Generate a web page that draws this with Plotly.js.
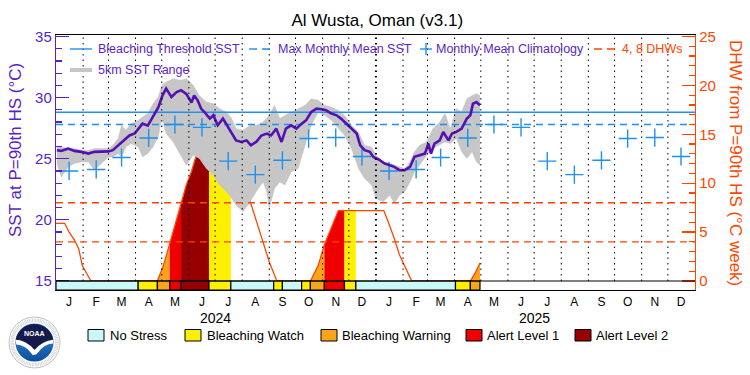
<!DOCTYPE html>
<html><head><meta charset="utf-8">
<script src="https://cdn.plot.ly/plotly-3.0.1.min.js"></script>
<style>html,body{margin:0;padding:0;background:#fff}#chart{width:750px;height:375px}</style>
</head><body><div id="chart"></div>
<script>
// ---------------- DATA ----------------
const title = 'Al Wusta, Oman (v3.1)';
const sstDates = ['2024-01-02','2024-01-07','2024-01-15','2024-01-22','2024-01-30','2024-02-07','2024-02-14','2024-02-22','2024-03-01','2024-03-06','2024-03-10','2024-03-14','2024-03-19','2024-03-25','2024-03-31','2024-04-06','2024-04-09','2024-04-15','2024-04-21','2024-04-27','2024-05-02','2024-05-06','2024-05-12','2024-05-18','2024-05-23','2024-05-29','2024-06-04','2024-06-07','2024-06-11','2024-06-15','2024-06-19','2024-06-25','2024-06-29','2024-07-04','2024-07-10','2024-07-16','2024-07-20','2024-07-25','2024-07-31','2024-08-06','2024-08-11','2024-08-17','2024-08-23','2024-08-29','2024-09-03','2024-09-09','2024-09-15','2024-09-20','2024-09-26','2024-10-02','2024-10-08','2024-10-13','2024-10-19','2024-10-25','2024-10-31','2024-11-05','2024-11-11','2024-11-17','2024-11-22','2024-11-28','2024-12-04','2024-12-10','2024-12-14','2024-12-19','2024-12-25','2024-12-29','2025-01-05','2025-01-11','2025-01-17','2025-01-22','2025-01-28','2025-02-03','2025-02-09','2025-02-14','2025-02-20','2025-02-26','2025-03-02','2025-03-05','2025-03-09','2025-03-15','2025-03-19','2025-03-25','2025-03-29','2025-04-03','2025-04-09','2025-04-15','2025-04-19','2025-04-22','2025-04-26','2025-04-30'];
const sstValues = [25.69,25.64,25.83,25.64,25.56,25.42,25.56,25.56,25.6,25.7,25.96,26.24,26.5,26.9,27.06,27.6,27.87,27.7,28.4,29.2,30.2,30.73,30.05,30.45,30.6,30.3,29.6,30.18,29.78,29.1,28.8,28.28,28.55,27.73,28.28,27.6,27.06,26.5,26.37,26.5,26.1,26.37,26.9,27.06,26.9,27.46,26.37,27.46,27.73,27.46,27.87,28.14,28.82,29.1,29.04,28.96,28.69,28.55,28.28,27.87,27.46,27.06,26.1,25.7,25.56,25.15,24.9,24.6,24.47,24.33,24.06,24.06,24.33,25.15,25.29,25.42,26.24,25.42,26.24,26.5,27.19,26.5,27.06,27.19,27.46,28.28,28.55,29.5,29.64,29.37];

const rangeDates = ['2024-01-02','2024-01-07','2024-01-15','2024-01-22','2024-01-30','2024-02-07','2024-02-14','2024-02-22','2024-03-01','2024-03-06','2024-03-12','2024-03-16','2024-03-21','2024-03-27','2024-04-04','2024-04-09','2024-04-15','2024-04-21','2024-04-27','2024-05-01','2024-05-06','2024-05-14','2024-05-22','2024-05-29','2024-06-06','2024-06-13','2024-06-21','2024-06-29','2024-07-06','2024-07-14','2024-07-20','2024-07-25','2024-08-02','2024-08-10','2024-08-17','2024-08-25','2024-08-29','2024-09-01','2024-09-07','2024-09-13','2024-09-19','2024-09-26','2024-10-04','2024-10-12','2024-10-19','2024-10-27','2024-11-03','2024-11-11','2024-11-19','2024-11-26','2024-12-04','2024-12-12','2024-12-19','2024-12-27','2025-01-01','2025-01-09','2025-01-17','2025-01-22','2025-01-28','2025-02-03','2025-02-09','2025-02-14','2025-02-20','2025-02-28','2025-03-07','2025-03-15','2025-03-21','2025-03-27','2025-04-03','2025-04-09','2025-04-15','2025-04-21','2025-04-26','2025-04-30'];
const rangeLow = [24.61,23.51,24.33,24.61,24.74,24.74,24.06,24.61,25.15,25.15,25.42,25.15,25.96,26.24,25.96,25.15,25.42,25.96,26.78,28.3,27.06,26.37,25.29,24.47,25.29,25.02,24.2,23.65,22.84,22.29,21.75,21.2,20.66,21.47,22.29,23.1,22.29,20.93,22.57,23.1,22.84,23.92,24.2,26.1,27.73,28.82,28.55,28.14,27.46,26.92,25.83,24.2,23.38,22.84,21.75,21.47,22.02,21.34,22.02,22.29,23.1,23.92,24.47,25.29,25.83,26.1,26.37,26.24,26.65,25.56,25.02,25.56,24.74,24.47];
const rangeHigh = [25.96,25.96,25.88,25.83,25.69,25.69,25.83,25.83,25.83,26.1,26.65,27.73,27.33,27.87,28.14,28.41,28.69,29.5,30.05,31.0,31.27,31.55,31.41,31.55,31.0,30.18,29.64,29.5,29.1,28.82,28.28,27.46,27.33,27.73,27.73,28.0,28.28,28.55,29.37,28.28,28.55,28.82,29.1,29.37,29.91,29.78,29.37,29.23,28.96,28.55,27.73,27.19,26.1,25.96,25.29,24.74,24.61,24.47,24.33,24.2,24.74,25.56,26.1,26.37,27.46,28.0,28.69,27.46,29.1,28.82,29.91,30.18,30.32,30.18];

const years = ['2024','2025'];
const monthNums = ['01','02','03','04','05','06','07','08','09','10','11','12'];
const monthLetters = ['J','F','M','A','M','J','J','A','S','O','N','D'];
const climatology = [24.0,24.12,25.1,26.7,27.8,27.56,24.8,23.7,24.87,26.65,26.73,25.18];
const maxMonthlyMean = 27.8;
const bleachingThreshold = 28.8;
const dhwLevels = [4, 8];

const dhwDates = ['2024-01-01','2024-01-11','2024-01-16','2024-01-22','2024-01-27','2024-01-31','2024-02-04','2024-02-09','2024-02-10','2024-04-26','2024-05-03','2024-05-10','2024-05-16','2024-05-23','2024-05-29','2024-06-04','2024-06-10','2024-06-17','2024-06-24','2024-07-12','2024-07-19','2024-07-26','2024-08-02','2024-08-09','2024-08-17','2024-08-25','2024-09-01','2024-09-09','2024-09-10','2024-10-18','2024-10-27','2024-11-03','2024-11-09','2024-11-15','2024-11-19','2024-11-26','2024-12-09','2025-01-10','2025-01-15','2025-01-22','2025-01-28','2025-02-03','2025-02-09','2025-02-11','2025-04-19','2025-04-25','2025-04-30'];
const dhwValues = [5.9,5.9,5.0,4.2,3.3,1.6,0.95,0.1,0,0,1.6,3.8,5.7,7.8,9.8,11.2,13.0,13.6,13.7,13.7,12.6,11.1,9.7,8.45,6.2,3.85,1.95,0.15,0,0,1.6,3.7,5.0,6.4,7.2,7.2,7.2,7.2,6.05,4.35,2.65,1.45,0.27,0,0,0.9,1.85];

const stressStart = ['2024-01-01','2024-04-04','2024-04-26','2024-05-10','2024-05-23','2024-06-24','2024-07-19','2024-09-06','2024-09-16','2024-10-08','2024-10-18','2024-11-03','2024-11-26','2024-12-09','2025-04-02','2025-04-19'];
const stressEnd   = ['2024-04-04','2024-04-26','2024-05-10','2024-05-23','2024-06-24','2024-07-19','2024-09-06','2024-09-16','2024-10-08','2024-10-18','2024-11-03','2024-11-26','2024-12-09','2025-04-02','2025-04-19','2025-04-30'];
const stressLevel = [0,1,2,3,4,1,0,1,0,1,2,3,1,0,1,2];
const stressNames = ['No Stress','Bleaching Watch','Bleaching Warning','Alert Level 1','Alert Level 2'];

// ---------------- STYLE ----------------
const stressColors = ['#c8f8f8','#fff000','#f9a51b','#ee0000','#960000'];
const purple = '#5a1fc8', sstLine = '#5510b4', blue = '#1e90f0', orange = '#ff4500', gray = '#c6c6c6';
const FONT = 'Liberation Sans, Arial, sans-serif';
const xRange = ['2024-01-01','2026-01-01'];
const dhwRange = [-0.92, 25.15];
const sstRange = [14.26, 35.12];
const px = v => (v - 56) / 639;
const py = v => (290 - v) / 255;

const traces = [];
// DHW fills by stress level (on DHW axis 'y', drawn underneath)
for (let i = 0; i < stressStart.length; i++) {
  if (stressLevel[i] === 0) continue;
  const xs = [], ys = [];
  dhwDates.forEach((d, k) => { if (d >= stressStart[i] && d <= stressEnd[i]) { xs.push(d); ys.push(dhwValues[k]); } });
  if (xs.length < 2) continue;
  traces.push({x: xs, y: ys, yaxis: 'y', type: 'scatter', mode: 'lines', fill: 'tozeroy',
    fillcolor: stressColors[stressLevel[i]], line: {width: 0, color: stressColors[stressLevel[i]]}, hoverinfo: 'skip'});
}
traces.push({x: dhwDates, y: dhwValues, yaxis: 'y', type: 'scatter', mode: 'lines', line: {color: orange, width: 1.3}});

// SST layer (on 'y2', overlaying, drawn above)
traces.push({x: rangeDates, y: rangeLow, yaxis: 'y2', type: 'scatter', mode: 'lines', line: {width: 0.5, color: gray}});
traces.push({x: rangeDates, y: rangeHigh, yaxis: 'y2', type: 'scatter', mode: 'lines', fill: 'tonexty', fillcolor: gray, line: {width: 0.5, color: gray}});
traces.push({x: xRange, y: [bleachingThreshold, bleachingThreshold], yaxis: 'y2', type: 'scatter', mode: 'lines', line: {color: blue, width: 1.4}});
traces.push({x: xRange, y: [maxMonthlyMean, maxMonthlyMean], yaxis: 'y2', type: 'scatter', mode: 'lines', line: {color: blue, width: 1.4, dash: '7px,5px'}});
const climX = [], climY = [];
years.forEach(y => monthNums.forEach((m, i) => { climX.push(y + '-' + m + '-16'); climY.push(climatology[i]); }));
traces.push({x: climX, y: climY, yaxis: 'y2', type: 'scatter', mode: 'markers',
  marker: {symbol: 'cross-thin', size: 13, line: {color: blue, width: 1.4}, color: blue}});
traces.push({x: sstDates, y: sstValues, yaxis: 'y2', type: 'scatter', mode: 'lines', line: {color: sstLine, width: 2.6}});

// ---------------- SHAPES ----------------
const shapes = [];
// monthly dotted grid
years.forEach(y => monthNums.forEach(m => {
  const d = y + '-' + m + '-01';
  if (d === xRange[0]) return;
  shapes.push({type: 'line', xref: 'x', yref: 'y', x0: d, x1: d, y0: 0, y1: dhwRange[1], layer: 'above',
    line: {color: '#000', width: (m === '01') ? 2 : 1, dash: '1.5px,4px'}});
}));
// DHW 4, 8 lines
dhwLevels.forEach(v => shapes.push({type: 'line', xref: 'paper', yref: 'y', x0: 0, x1: 1, y0: v, y1: v, layer: 'above',
  line: {color: orange, width: 1.3, dash: '7px,5px'}}));
// stress bar
for (let i = 0; i < stressStart.length; i++) {
  shapes.push({type: 'rect', xref: 'x', yref: 'y', x0: stressStart[i], x1: stressEnd[i], y0: dhwRange[0], y1: 0,
    fillcolor: stressColors[stressLevel[i]], line: {color: '#000', width: 1.2}, layer: 'above'});
}
shapes.push({type: 'line', xref: 'paper', yref: 'y', x0: 0, x1: 1, y0: 0, y1: 0, line: {color: '#000', width: 1.2}, layer: 'above'});

// top legend symbols
const r1 = py(49), r2 = py(70);
shapes.push({type: 'line', xref: 'paper', yref: 'paper', x0: px(70), x1: px(92), y0: r1, y1: r1, line: {color: blue, width: 1.4}});
shapes.push({type: 'line', xref: 'paper', yref: 'paper', x0: px(249), x1: px(274), y0: r1, y1: r1, line: {color: blue, width: 1.4, dash: '8px,5px'}});
shapes.push({type: 'line', xref: 'paper', yref: 'paper', x0: px(420), x1: px(432), y0: r1, y1: r1, line: {color: blue, width: 1.4}});
shapes.push({type: 'line', xref: 'paper', yref: 'paper', x0: px(426), x1: px(426), y0: py(43), y1: py(55), line: {color: blue, width: 1.4}});
shapes.push({type: 'line', xref: 'paper', yref: 'paper', x0: px(594), x1: px(617), y0: r1, y1: r1, line: {color: orange, width: 1.3, dash: '8px,5px'}});
shapes.push({type: 'line', xref: 'paper', yref: 'paper', x0: px(70), x1: px(92), y0: r2, y1: r2, line: {color: gray, width: 4}});

// bottom legend boxes
const boxX = [88, 185, 321, 466, 575];
const txtX = [110, 207, 342, 487, 596];
stressNames.forEach((n, i) => shapes.push({type: 'rect', xref: 'paper', yref: 'paper', x0: px(boxX[i]), x1: px(boxX[i] + 16),
  y0: py(329.5), y1: py(341), fillcolor: stressColors[i], line: {color: '#000', width: 1}}));

// ---------------- ANNOTATIONS ----------------
const ann = [];
const lg = (t, x, y, c) => ann.push({text: t, xref: 'paper', yref: 'paper', x: px(x), y: py(y), xanchor: 'left', yanchor: 'middle',
  showarrow: false, font: {family: FONT, size: 12.5, color: c}, borderpad: 0});
lg('Bleaching Threshold SST', 97, 49, purple);
lg('Max Monthly Mean SST', 277, 49, purple);
lg('Monthly Mean Climatology', 435, 49, purple);
lg('4, 8 DHWs', 621, 49, orange);
lg('5km SST Range', 97, 70, purple);
stressNames.forEach((n, i) => ann.push({text: n, xref: 'paper', yref: 'paper', x: px(txtX[i] - 1), y: py(335.5), xanchor: 'left', yanchor: 'middle',
  showarrow: false, font: {family: FONT, size: 13, color: '#000'}, borderpad: 0}));
years.forEach(y => ann.push({text: y, xref: 'x', yref: 'paper', x: y + '-07-01', y: py(318), xanchor: 'center', yanchor: 'middle',
  showarrow: false, font: {family: FONT, size: 14, color: '#000'}, borderpad: 0}));
ann.push({text: 'SST at P=90th HS (°C)', xref: 'paper', yref: 'paper', x: px(15), y: py(150), textangle: -90, showarrow: false,
  xanchor: 'center', yanchor: 'middle', font: {family: FONT, size: 17, color: purple}});
ann.push({text: 'DHW from P=90th HS (°C week)', xref: 'paper', yref: 'paper', x: px(736), y: py(163), textangle: 90, showarrow: false,
  xanchor: 'center', yanchor: 'middle', font: {family: FONT, size: 17, color: orange}});
ann.push({text: '<b>NOAA</b>', xref: 'paper', yref: 'paper', x: px(34), y: py(333), showarrow: false, xanchor: 'center', yanchor: 'middle',
  font: {family: FONT, size: 7, color: '#fff'}});

// NOAA logo (graphic only)
const logoSvg = "<svg xmlns='http://www.w3.org/2000/svg' viewBox='0 0 100 100'>" +
  "<circle cx='50' cy='50' r='48' fill='#fff' stroke='#9a9a9a' stroke-width='1.2'/>" +
  "<circle cx='50' cy='50' r='42' fill='none' stroke='#cfcfcf' stroke-width='7' stroke-dasharray='1.5,1.5'/>" +
  "<defs><linearGradient id='g' x1='0' y1='0' x2='0' y2='1'><stop offset='0' stop-color='#3d8fe0'/><stop offset='1' stop-color='#0b4f9c'/></linearGradient></defs>" +
  "<circle cx='50' cy='50' r='36' fill='url(#g)'/>" +
  "<path d='M14.5 45 A36 36 0 0 1 85.5 45 Q70 44 58 58 L50 64 Q34 46 14.5 45 Z' fill='#141a4a'/>" +
  "<path d='M14.5 45 Q34 46 50 64 Q64 48 85.5 45 L85 52 Q68 52 54 72 L47 74 Q33 54 15.5 54 Z' fill='#fff'/>" +
  "</svg>";

const layout = {
  width: 750, height: 375,
  margin: {l: 56, r: 55, t: 35, b: 85, pad: 0},
  paper_bgcolor: '#fff', plot_bgcolor: '#fff',
  showlegend: false,
  font: {family: FONT, color: '#000'},
  title: {text: title, font: {family: FONT, size: 17, color: '#000'}, x: 0.503, xref: 'container', xanchor: 'center',
    y: 1 - 20 / 375, yref: 'container', yanchor: 'middle'},
  xaxis: {type: 'date', range: xRange, showgrid: false, zeroline: false, showline: true, linecolor: '#000', linewidth: 1.2, mirror: true,
    ticks: '', tickvals: climX, ticktext: years.flatMap(() => monthLetters), tickangle: 0,
    tickfont: {family: FONT, size: 12, color: '#000'}},
  yaxis: {range: dhwRange, side: 'right', showgrid: false, zeroline: false, showline: true, linecolor: orange, linewidth: 1.2,
    tick0: 0, dtick: 5, ticks: 'inside', ticklen: 13, tickcolor: orange, tickwidth: 1.2,
    tickfont: {family: FONT, size: 15, color: orange},
    minor: {dtick: 1, tick0: 0, ticks: 'inside', ticklen: 6, tickcolor: orange, tickwidth: 1.2, showgrid: false}},
  yaxis2: {range: sstRange, side: 'left', overlaying: 'y', showgrid: false, zeroline: false, showline: true, linecolor: purple, linewidth: 1.2,
    tick0: 15, dtick: 5, ticks: 'inside', ticklen: 13, tickcolor: purple, tickwidth: 1.2,
    tickfont: {family: FONT, size: 15, color: purple},
    minor: {dtick: 1, tick0: 15, ticks: 'inside', ticklen: 6, tickcolor: purple, tickwidth: 1.2, showgrid: false}},
  shapes: shapes,
  annotations: ann,
  images: [{source: 'data:image/svg+xml;charset=utf-8,' + encodeURIComponent(logoSvg), xref: 'paper', yref: 'paper',
    x: px(8), y: py(316), sizex: 53 / 639, sizey: 53 / 255, xanchor: 'left', yanchor: 'top', sizing: 'contain', layer: 'above'}]
};

Plotly.newPlot('chart', traces, layout, {staticPlot: true, displayModeBar: false});
</script></body></html>
